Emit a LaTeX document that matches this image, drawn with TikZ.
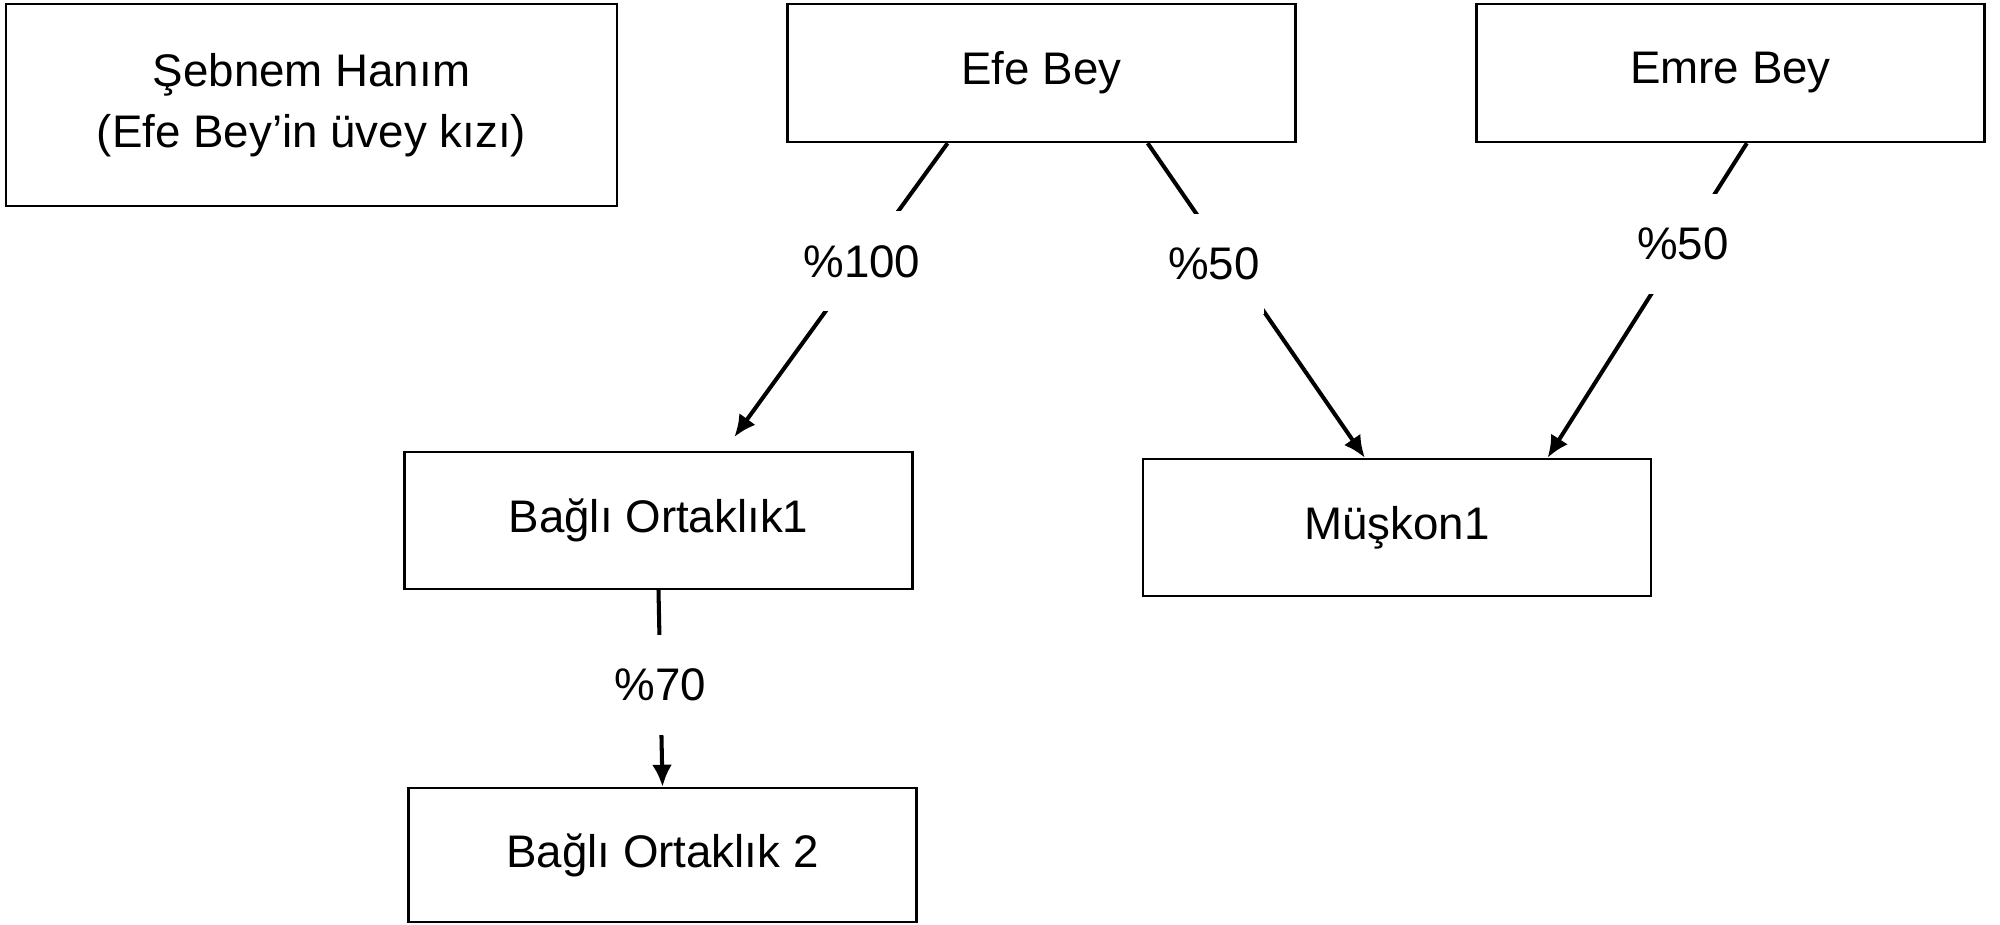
\documentclass[tikz,border=0pt]{standalone}
\usepackage{fontspec}
\setmainfont{Liberation Sans}
\usepackage{tikz}
\usetikzlibrary{positioning, calc, arrows.meta}

\tikzset{
    entity/.style={draw, line width=0.7pt, minimum width=5.08cm, minimum height=1.37cm,
        inner sep=0pt, align=center, font=\fontsize{13}{17.3}\selectfont},
    share/.style={line width=1.15pt, -{Latex[length=0.22cm,width=0.2cm]}},
    pct/.style={fill=white, inner sep=0pt, minimum width=1cm, minimum height=1cm,
        font=\fontsize{13}{17.3}\selectfont},
}

\begin{document}
\begin{tikzpicture}
    \useasboundingbox (0,0) rectangle (20,-9.25);

    \node[entity, minimum width=6.11cm, minimum height=2.02cm] (sebnem) at (3.115,-1.05)
        {Şebnem Hanım\\(Efe Bey’in üvey kızı)};
    \node[entity, minimum height=1.38cm] (efe) at (10.415,-0.73) {Efe Bey};
    \node[entity, minimum height=1.38cm] (emre) at (17.305,-0.73) {Emre Bey};
    \node[entity] (bo1) at (6.585,-5.205) {Bağlı Ortaklık1};
    \node[entity] (muskon) at (13.97,-5.275) {Müşkon1};
    \node[entity, minimum height=1.34cm] (bo2) at (6.625,-8.55) {Bağlı Ortaklık 2};

    \draw[share, shorten >=0.17cm] ($(efe.south west)!0.316!(efe.south east)$)
        -- node[pct, pos=0.384] {\%100} ($(bo1.north west)!0.629!(bo1.north east)$);
    \draw[share] ($(efe.south west)!0.708!(efe.south east)$)
        -- node[pct, pos=0.383, xshift=-0.17cm] {\%50} ($(muskon.north west)!0.437!(muskon.north east)$);
    \draw[share] ($(emre.south west)!0.532!(emre.south east)$)
        -- node[pct, pos=0.32] {\%50} ($(muskon.north west)!0.795!(muskon.north east)$);
    \draw[share] (bo1.south) -- node[pct, pos=0.48] {\%70} (bo2.north);
\end{tikzpicture}
\end{document}
